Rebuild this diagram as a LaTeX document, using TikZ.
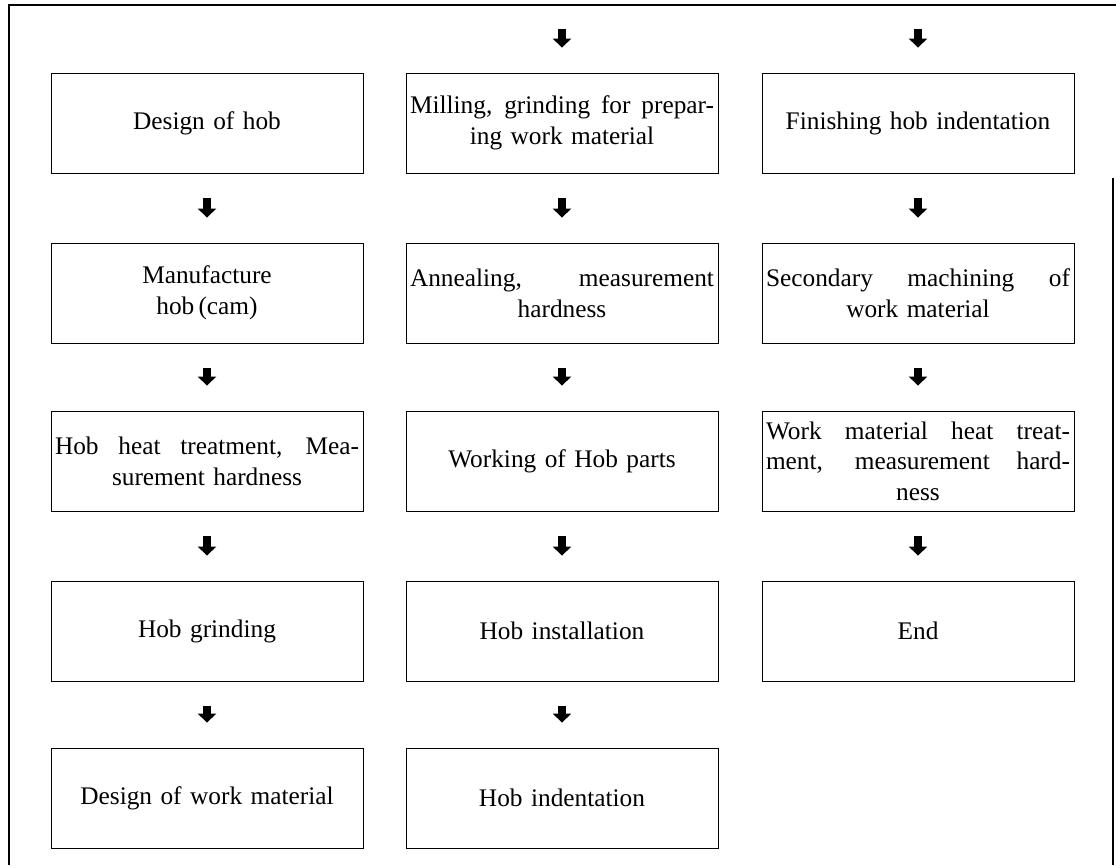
\documentclass[tikz,border=0pt]{standalone}
\usepackage{fontspec}
\setmainfont{Liberation Serif}
\usetikzlibrary{arrows.meta}

\tikzset{
    proc/.style={draw, line width=0.6pt, minimum width=234pt, minimum height=75pt,
        text width=228pt, inner sep=3pt, align=center,
        font=\fontsize{19}{23}\selectfont},
    down/.style={line width=6pt, -{Triangle[width=13.5pt,length=6.75pt]},
        shorten <=18.75pt, shorten >=18.75pt}
}
\newcommand{\jline}[1]{\makebox[\hsize][s]{\spaceskip=0pt\relax #1}}

\begin{document}
\begin{tikzpicture}[x=0.75pt,y=-0.75pt]
    \useasboundingbox (0,0) rectangle (1116,865);
    \draw[line width=0.8pt] (9,865) -- (9,5) -- (1116,5);
    \draw[line width=0.8pt] (1113,178) -- (1113,865);

    % first column
    \node[proc] (a1) at (207,123) {Design of hob};
    \node[proc] (a2) at (207,293) {Manufacture\\hob\,(cam)};
    \node[proc] (a3) at (207,461) {\jline{Hob heat treatment, Mea-}\\surement hardness};
    \node[proc] (a4) at (207,631) {Hob grinding};
    \node[proc] (a5) at (207,798) {Design of work material};

    % second column
    \coordinate (b0) at (562,29);
    \node[proc] (b1) at (562,123) {\jline{Milling, grinding for prepar-}\\ing work material};
    \node[proc] (b2) at (562,293) {\jline{Annealing, measurement}\\hardness};
    \node[proc] (b3) at (562,461) {Working of Hob parts};
    \node[proc] (b4) at (562,631) {Hob installation};
    \node[proc] (b5) at (562,798) {Hob indentation};

    % third column
    \coordinate (c0) at (918,29);
    \node[proc] (c1) at (918,123) {Finishing hob indentation};
    \node[proc] (c2) at (918,293) {\jline{Secondary machining of}\\work material};
    \node[proc] (c3) at (918,461) {\jline{Work material heat treat-}\\\jline{ment, measurement hard-}\\ness};
    \node[proc] (c4) at (918,631) {End};

    \draw[down] (a1) -- (a2);
    \draw[down] (a2) -- (a3);
    \draw[down] (a3) -- (a4);
    \draw[down] (a4) -- (a5);

    \draw[down, shorten <=0pt] (b0) -- (b1);
    \draw[down] (b1) -- (b2);
    \draw[down] (b2) -- (b3);
    \draw[down] (b3) -- (b4);
    \draw[down] (b4) -- (b5);

    \draw[down, shorten <=0pt] (c0) -- (c1);
    \draw[down] (c1) -- (c2);
    \draw[down] (c2) -- (c3);
    \draw[down] (c3) -- (c4);
\end{tikzpicture}
\end{document}
